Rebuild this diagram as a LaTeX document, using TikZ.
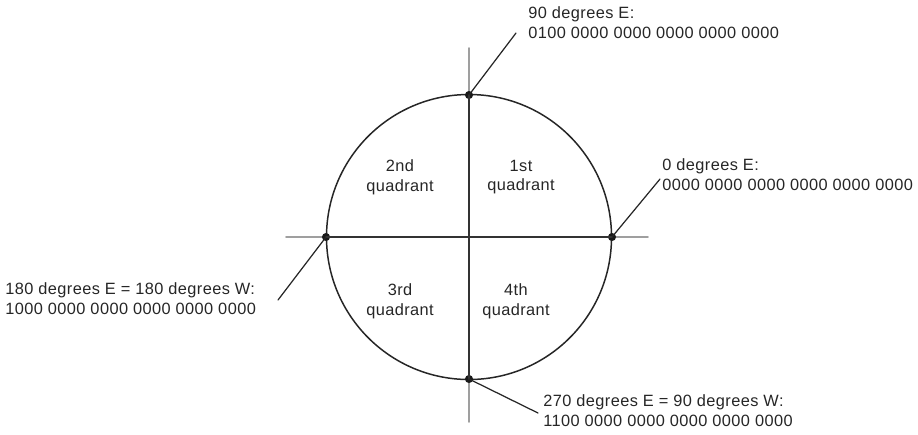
\documentclass[tikz,border=0pt]{standalone}
\usepackage{fontspec}
\setmainfont{Liberation Sans}
\newfontfamily\lblfont[LetterSpace=2.6]{Liberation Sans}
\usetikzlibrary{positioning}

\tikzset{
  lbl/.style={inner sep=0, align=left, anchor=west, text=black!85, font=\lblfont\fontsize{9.3}{11.3}\selectfont},
  quad/.style={inner sep=0, align=center, text=black!85, font=\lblfont\fontsize{9.3}{11.3}\selectfont},
  dot/.style={circle, fill=black!90, inner sep=0, minimum size=4.6pt},
  leader/.style={black!85, line width=0.7pt},
}

\begin{document}
\begin{tikzpicture}[line cap=round,line join=round,x=0.02cm,y=-0.02cm]
      \useasboundingbox (0,0) rectangle (918,434);
      % \draw[help lines,step=50] (0,0) grid (918,434);

      % outer axes
      \draw[gray!75, line width=0.9pt] (286,237) -- (648,237);
      \draw[gray!75, line width=0.9pt] (469,48) -- (469,422);

      % circle
      \draw[black!85, line width=0.85pt] (469,237) circle [radius=142.5];

      % points on the circle
      \node[dot] (north) at (469,95) {};
      \node[dot] (east) at (612,237) {};
      \node[dot] (west) at (326,237) {};
      \node[dot] (south) at (469,379) {};

      % inner axes
      \draw[black!80, line width=1.1pt] (west.center) -- (east.center);
      \draw[black!80, line width=1.1pt] (north.center) -- (south.center);

      % quadrants
      \node[quad] (q1) at (521,177) {1st\\quadrant};
      \node[quad] (q2) at (400,177) {2nd\\quadrant};
      \node[quad] (q3) at (400,301) {3rd\\quadrant};
      \node[quad] (q4) at (516,301) {4th\\quadrant};

      % 90 degrees E
      \node[lbl] (l90) at (528,23) {90 degrees E:\\0100 0000 0000 0000 0000 0000};
      \coordinate (c90) at (516,33);
      \draw[leader] (north.center) -- (c90);

      % 0 degrees E
      \node[lbl] (l0) at (662,175) {0 degrees E:\\0000 0000 0000 0000 0000 0000};
      \coordinate (c0) at (660,179);
      \draw[leader] (east.center) -- (c0);

      % 180 degrees
      \node[lbl] (l180) at (5,299) {180 degrees E = 180 degrees W:\\1000 0000 0000 0000 0000 0000};
      \coordinate (c180) at (278,300);
      \draw[leader] (west.center) -- (c180);

      % 270 degrees
      \node[lbl] (l270) at (543,411) {270 degrees E = 90 degrees W:\\1100 0000 0000 0000 0000 0000};
      \coordinate (c270) at (538,413);
      \draw[leader] (south.center) -- (c270);

\end{tikzpicture}
\end{document}
